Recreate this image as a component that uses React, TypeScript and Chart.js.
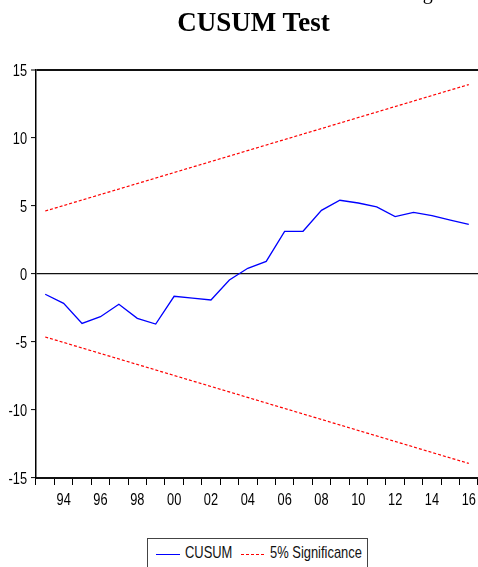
import React, { useEffect, useRef } from "react";
import { Chart, registerables } from "chart.js";

Chart.register(...registerables);

const years = [
  "1993", "1994", "1995", "1996", "1997", "1998", "1999", "2000",
  "2001", "2002", "2003", "2004", "2005", "2006", "2007", "2008",
  "2009", "2010", "2011", "2012", "2013", "2014", "2015", "2016",
];

const xTickLabels = [
  "", "94", "", "96", "", "98", "", "00",
  "", "02", "", "04", "", "06", "", "08",
  "", "10", "", "12", "", "14", "", "16",
];

const cusum = [
  -1.49, -2.16, -3.63, -3.14, -2.23, -3.26, -3.68, -1.64,
  -1.78, -1.91, -0.44, 0.42, 0.93, 3.14, 3.14, 4.68,
  5.42, 5.22, 4.93, 4.22, 4.53, 4.29, 3.97, 3.65,
];

const upperBand = [
  4.63, null, null, null, null, null, null, null,
  null, null, null, null, null, null, null, null,
  null, null, null, null, null, null, null, 13.93,
];

const lowerBand = [
  -4.63, null, null, null, null, null, null, null,
  null, null, null, null, null, null, null, null,
  null, null, null, null, null, null, null, -13.93,
];

const yTicks = [-15, -10, -5, 0, 5, 10, 15];
const yTickLabels = ["-15", "-10", "-5", "0", "5", "10", "15"];

const SANS = '"Liberation Sans Narrow", "Arial Narrow", "Liberation Sans", Arial, sans-serif';
const SERIF = '"Liberation Serif", "Times New Roman", serif';
const NARROW = 0.8;

const narrowLabels = {
  id: "narrowLabels",
  afterDraw(chart: any) {
    const ctx = chart.ctx;
    const xs = chart.scales.x;
    const ys = chart.scales.y;
    ctx.save();
    ctx.fillStyle = "#000";
    ctx.font = `16px ${SANS}`;
    ctx.textBaseline = "alphabetic";
    // y axis labels
    ctx.textAlign = "right";
    yTicks.forEach((v, i) => {
      const py = ys.getPixelForValue(v);
      ctx.save();
      ctx.translate(ys.right - 9, py + 6);
      ctx.scale(NARROW, 1);
      ctx.fillText(yTickLabels[i], 0, 0);
      ctx.restore();
    });
    // x axis labels
    ctx.textAlign = "center";
    xTickLabels.forEach((lab, i) => {
      if (!lab) return;
      const px = xs.getPixelForValue(i);
      ctx.save();
      ctx.translate(px, xs.top + 27);
      ctx.scale(NARROW, 1);
      ctx.fillText(lab, 0, 0);
      ctx.restore();
    });
    ctx.restore();
  },
};

export default function App() {
  const ref = useRef<HTMLCanvasElement | null>(null);

  useEffect(() => {
    if (!ref.current) return;
    const chart = new Chart(ref.current, {
      type: "line",
      data: {
        labels: years,
        datasets: [
          {
            label: "CUSUM",
            data: cusum,
            borderColor: "#0000ff",
            borderWidth: 1.3,
            pointRadius: 0,
            tension: 0,
          },
          {
            label: "5% Significance",
            data: upperBand,
            borderColor: "#ff0000",
            borderWidth: 1.2,
            borderDash: [3, 2],
            pointRadius: 0,
            spanGaps: true,
          },
          {
            label: "5% Significance",
            data: lowerBand,
            borderColor: "#ff0000",
            borderWidth: 1.2,
            borderDash: [3, 2],
            pointRadius: 0,
            spanGaps: true,
          },
        ],
      },
      plugins: [narrowLabels],
      options: {
        animation: false,
        responsive: false,
        devicePixelRatio: 1,
        layout: { padding: { top: 70, left: 0, right: 0, bottom: 0 } },
        plugins: {
          legend: { display: false },
          title: { display: false },
          tooltip: { enabled: false },
        },
        scales: {
          x: {
            type: "category",
            offset: true,
            afterFit: (s: any) => {
              s.height = 89;
            },
            grid: {
              offset: true,
              drawOnChartArea: false,
              drawTicks: true,
              tickLength: 7,
              color: "#000",
              lineWidth: 1,
            },
            border: { display: true, color: "#111", width: 2 },
            ticks: { display: false, autoSkip: false, maxRotation: 0, minRotation: 0 },
          },
          y: {
            min: -15,
            max: 15,
            afterFit: (s: any) => {
              s.width = 36;
            },
            afterBuildTicks: (s: any) => {
              s.ticks = yTicks.map((v) => ({ value: v }));
            },
            grid: {
              drawOnChartArea: true,
              drawTicks: true,
              tickLength: 5,
              tickColor: "#000",
              tickWidth: 1,
              color: (c: any) =>
                c.tick && (c.tick.value === 0 || c.tick.value === 15) ? "#111" : "rgba(0,0,0,0)",
              lineWidth: (c: any) => (c.tick && c.tick.value === 15 ? 2 : 1.2),
            },
            border: { display: true, color: "#000", width: 1.5 },
            ticks: { display: false },
          },
        },
      },
    });
    return () => chart.destroy();
  }, []);

  const legendText = {
    position: "absolute" as const,
    top: 5,
    fontFamily: SANS,
    fontSize: 17,
    lineHeight: "17px",
    whiteSpace: "nowrap" as const,
    color: "#111",
    transform: "scaleX(0.76)",
    transformOrigin: "left center",
  };

  return (
    <div
      style={{
        position: "fixed",
        left: 0,
        top: 0,
        width: 478,
        height: 567,
        overflow: "hidden",
        background: "#fff",
      }}
    >
      <canvas ref={ref} width={478} height={567} style={{ position: "absolute", left: 0, top: 0 }} />
      <div
        style={{
          position: "absolute",
          left: 406,
          top: -18,
          fontFamily: SERIF,
          fontSize: 20,
          lineHeight: "20px",
          whiteSpace: "nowrap",
          color: "#000",
        }}
      >
        Fig.
      </div>
      <div
        style={{
          position: "absolute",
          left: 0,
          top: 9,
          width: 507,
          textAlign: "center",
          fontFamily: SERIF,
          fontWeight: "bold",
          fontSize: 27,
          lineHeight: "27px",
          whiteSpace: "nowrap",
          color: "#000",
        }}
      >
        CUSUM Test
      </div>
      <div
        style={{
          position: "absolute",
          left: 147,
          top: 538,
          width: 219,
          height: 40,
          border: "1px solid #444",
          background: "#fff",
        }}
      >
        <div style={{ position: "absolute", left: 8, top: 15, width: 24, height: 1, background: "#0000ff" }} />
        <div style={{ ...legendText, left: 37 }}>CUSUM</div>
        <div
          style={{
            position: "absolute",
            left: 93,
            top: 15,
            width: 25,
            height: 1,
            background: "repeating-linear-gradient(to right, #ff0000 0 3px, transparent 3px 5px)",
          }}
        />
        <div style={{ ...legendText, left: 122 }}>5% Significance</div>
      </div>
    </div>
  );
}
